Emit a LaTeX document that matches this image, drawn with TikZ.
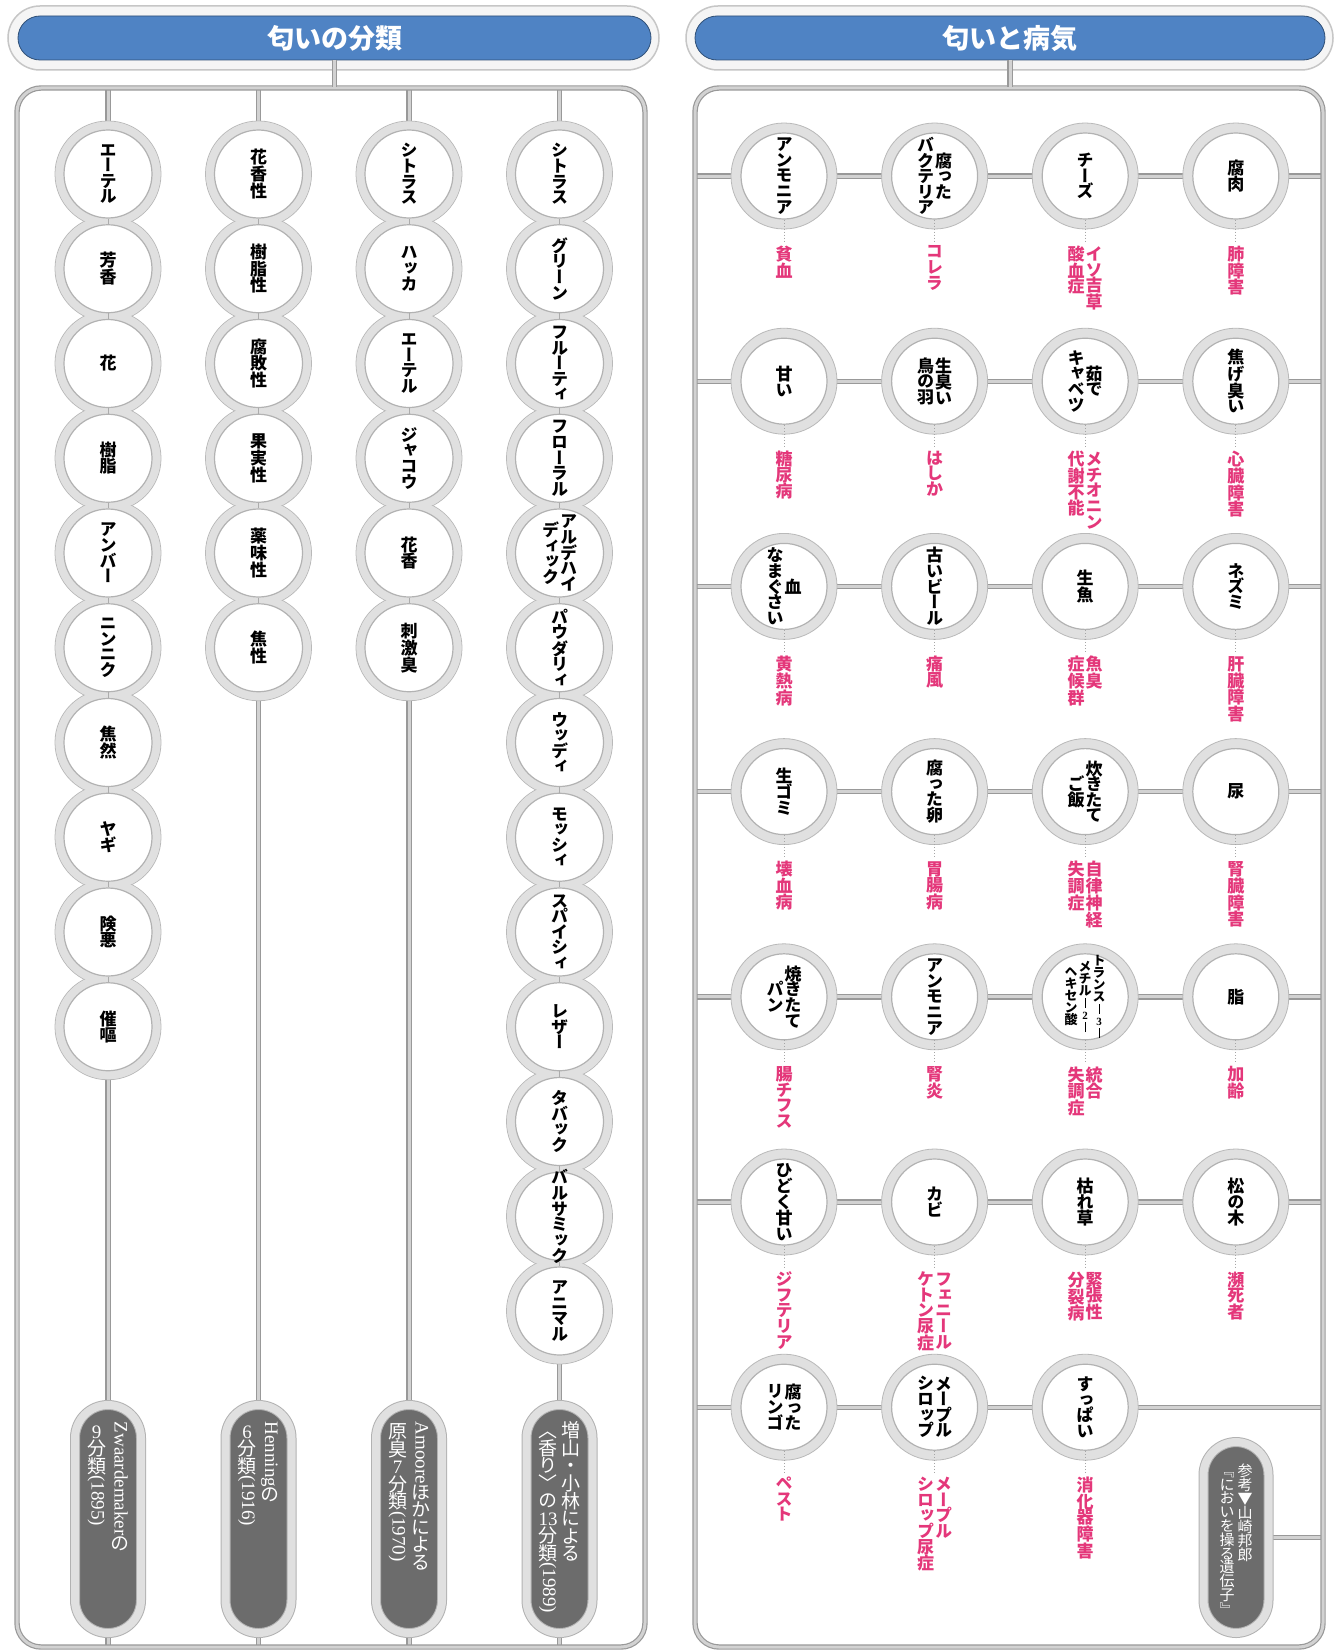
\documentclass[tikz,border=0pt]{standalone}
\usepackage{xcolor}
\usepackage{graphicx}
\usepackage{fontspec}
\usetikzlibrary{positioning}
\pgfdeclarelayer{back}
\pgfdeclarelayer{mid}
\pgfsetlayers{back,mid,main}

\setmainfont{Liberation Serif}
\newfontfamily\jp{Noto Sans CJK JP}[RawFeature=+vert]
\newfontfamily\jph{Noto Sans CJK JP}
\newfontfamily\lat{Liberation Serif}

\definecolor{headblue}{RGB}{79,131,196}
\definecolor{sickpink}{RGB}{228,55,122}
\definecolor{pillgray}{RGB}{108,108,108}
\definecolor{ringgray}{RGB}{224,224,224}

% vertical text
\def\tatemark{TATEMARK}
\newcommand\tatechar[1]{\hbox to 1em{\hss#1\hss}}
\def\tateloop#1{\def\tatearg{#1}\ifx\tatearg\tatemark\else\tatechar{#1}\expandafter\tateloop\fi}
\newcommand\tatesetup{\baselineskip=0.92em\lineskip=0.04em\lineskiplimit=0pt}
\newcommand\tatec[1]{\ensuremath{\vcenter{\tatesetup\expandafter\tateloop#1{TATEMARK}}}}
\newcommand\tatet[1]{\vtop{\tatesetup\expandafter\tateloop#1{TATEMARK}}}
\newcommand\tateII[2]{\edef\tmpb{#2}\ifx\tmpb\empty\tatec{#1}\else\tatec{#2}\kern1pt\tatec{#1}\fi}
\newcommand\tateIIt[2]{\edef\tmpb{#2}\ifx\tmpb\empty\tatet{#1}\else\tatet{#2}\kern1pt\tatet{#1}\fi}
\newcommand\yoko[1]{\raisebox{\dimexpr0.86em-\height\relax}{\rotatebox{-90}{\raisebox{0pt}[0.66em][0.14em]{\lat #1}}}}
\newcommand\tdig[1]{{\lat\fontsize{11}{11}\selectfont#1}}
\newcommand\tbar{\rule[-0.05em]{0.6pt}{0.75em}}

\begin{document}
\begin{tikzpicture}[x=1pt,y=-1pt,
    pipe/.style={draw=gray!80,line width=1.2pt,double=gray!35,double distance=3pt},
    spine/.style={draw=gray!65,line width=1pt},
    ringout/.style={fill=ringgray,draw=gray!55,line width=0.8pt},
    ring/.style={circle,minimum size=88pt,inner sep=0pt,fill=white,draw=gray!60,line width=1.2pt},
    ringtext/.style={inner sep=0pt,text=black,font=\jp\bfseries\fontsize{17}{17}\selectfont},
    sicktext/.style={inner sep=0pt,text=sickpink,font=\jp\bfseries\fontsize{17}{17}\selectfont},
    link/.style={draw=gray!70,dotted,line width=1pt,shorten >=3pt},
    headout/.style={rectangle,minimum height=64pt,rounded corners=32pt,fill=gray!8,draw=gray!45,line width=1.5pt},
    headbar/.style={rectangle,minimum height=44pt,rounded corners=22pt,fill=headblue,draw=headblue!60!black,
        line width=0.8pt,text=white,font=\jph\bfseries\fontsize{27}{27}\selectfont},
    frame/.style={rectangle,minimum height=1559pt,rounded corners=24pt,pipe},
    pill/.style={rectangle,minimum width=66pt,rounded corners=33pt,fill=pillgray,draw=gray!60,
        line width=1pt,double=ringgray,double distance=8pt},
    pilltext/.style={inner sep=0pt,text=white,font=\jp\fontsize{19}{19}\selectfont}]

\useasboundingbox (0,0) rectangle (1335,1651);

% headers and frames
\node[headout,minimum width=651pt] (lheadout) at (333.5,38) {};
\node[headbar,minimum width=633pt] (lhead) at (334.5,38) {匂いの分類};
\node[headout,minimum width=647pt] (rheadout) at (1009.5,38) {};
\node[headbar,minimum width=630pt] (rhead) at (1010,38) {匂いと病気};
\node[frame,minimum width=628pt] (lframe) at (331,867.5) {};
\node[frame,minimum width=628pt] (rframe) at (1009,867.5) {};
\draw[pipe] (lhead.south) -- (lhead.south |- lframe.north);
\draw[pipe] (rhead.south) -- (rhead.south |- rframe.north);

% odour classes
\foreach \ta/\tb [count=\i] in {エーテル/,芳香/,花/,樹脂/,アンバー/,ニンニク/,焦然/,ヤギ/,険悪/,催嘔/}{
    \node[ring,label={[ringtext]center:{\tateII{\ta}{\tb}}}] (zw\i) at (108,{174+94.75*(\i-1)}) {};
    \pgfmathtruncatemacro\j{\i-1}
    \ifnum\i>1 \draw[spine] (zw\j) -- (zw\i); \fi
}
\foreach \ta/\tb [count=\i] in {花香性/,樹脂性/,腐敗性/,果実性/,薬味性/,焦性/}{
    \node[ring,label={[ringtext]center:{\tateII{\ta}{\tb}}}] (hn\i) at (258.5,{174+94.75*(\i-1)}) {};
    \pgfmathtruncatemacro\j{\i-1}
    \ifnum\i>1 \draw[spine] (hn\j) -- (hn\i); \fi
}
\foreach \ta/\tb [count=\i] in {シトラス/,ハッカ/,エーテル/,ジャコウ/,花香/,刺激臭/}{
    \node[ring,label={[ringtext]center:{\tateII{\ta}{\tb}}}] (am\i) at (409,{174+94.75*(\i-1)}) {};
    \pgfmathtruncatemacro\j{\i-1}
    \ifnum\i>1 \draw[spine] (am\j) -- (am\i); \fi
}
\foreach \ta/\tb [count=\i] in {シトラス/,グリーン/,フルーティ/,フローラル/,アルデハイ/ディック,パウダリィ/,
        ウッディ/,モッシィ/,スパイシィ/,レザー/,タバック/,バルサミック/,アニマル/}{
    \node[ring,label={[ringtext]center:{\tateII{\ta}{\tb}}}] (mk\i) at (559.5,{174+94.75*(\i-1)}) {};
    \pgfmathtruncatemacro\j{\i-1}
    \ifnum\i>1 \draw[spine] (mk\j) -- (mk\i); \fi
}

\foreach \p/\x in {zw/108,hn/258.5,am/409,mk/559.5}
    \node[pill,minimum height=228pt] (\p-pill) at (\x,1519) {};
\node[pilltext,below=17pt of zw-pill.north] (zw-text)
    {\tatet{{\lat 9}分類{\yoko{(1895)}}}\kern4pt\tatet{{\yoko{Zwaardemaker}}の}};
\node[pilltext,below=17pt of hn-pill.north] (hn-text)
    {\tatet{{\lat 6}分類{\yoko{(1916)}}}\kern4pt\tatet{{\yoko{Henning}}の}};
\node[pilltext,below=17pt of am-pill.north] (am-text)
    {\tatet{原臭{\lat 7}分類{\yoko{(1970)}}}\kern4pt\tatet{{\yoko{Amoore}}ほかによる}};
\node[pilltext,below=17pt of mk-pill.north] (mk-text)
    {\tatet{〈香り〉の{\lat 13}分類{\yoko{(1989)}}}\kern4pt\tatet{増山・小林による}};

% odours and illnesses
\foreach \ro/\co/\ta/\tb/\da/\db in {
    1/1/アンモニア//貧血/,1/2/腐った/バクテリア/コレラ/,1/3/チーズ//イソ吉草/酸血症,1/4/腐肉//肺障害/,
    2/1/甘い//糖尿病/,2/2/生臭い/鳥の羽/はしか/,2/3/茹で/キャベツ/メチオニン/代謝不能,2/4/焦げ臭い//心臓障害/,
    3/1/血/なまぐさい/黄熱病/,3/2/古いビール//痛風/,3/3/生魚//魚臭/症候群,3/4/ネズミ//肝臓障害/,
    4/1/生ゴミ//壊血病/,4/2/腐った卵//胃腸病/,4/3/炊きたて/ご飯/自律神経/失調症,4/4/尿//腎臓障害/,
    5/1/焼きたて/パン/腸チフス/,5/2/アンモニア//腎炎/,5/4/脂//加齢/,
    6/1/ひどく甘い//ジフテリア/,6/2/カビ//フェニール/ケトン尿症,6/3/枯れ草//緊張性/分裂病,6/4/松の木//瀕死者/,
    7/1/腐った/リンゴ/ペスト/,7/2/メープル/シロップ/メープル/シロップ尿症,7/3/すっぱい//消化器障害/}{
    \node[ring,minimum size=86pt,label={[ringtext]center:{\tateII{\ta}{\tb}}}] (sm\ro\co)
        at ({784+150.6*(\co-1)},{176+205.2*(\ro-1)}) {};
    \node[sicktext,below=26pt of sm\ro\co] (ds\ro\co) {\tateIIt{\da}{\db}};
    \draw[link] (sm\ro\co) -- (ds\ro\co);
}
\node[ring,minimum size=86pt,label={[ringtext,font=\jp\bfseries\fontsize{13}{13}\selectfont]center:{%
    \tatec{ヘキセン酸}\kern1pt\tatec{メチル{\tbar}{\tdig2}{\tbar}}\kern1pt\tatec{トランス{\tbar}{\tdig3}{\tbar}}}}]
    (sm53) at (1085.2,{176+205.2*4}) {};
\node[sicktext,below=26pt of sm53] (ds53) {\tateIIt{統合}{失調症}};
\draw[link] (sm53) -- (ds53);

\node[pill,minimum width=65pt,minimum height=191pt] (ref-pill) at (1236,1537.5) {};
\node[pilltext,font=\jp\fontsize{15}{15}\selectfont,below=22pt of ref-pill.north] (ref-text)
    {\tatet{『においを操る遺伝子』}\kern3pt\tatet{参考▼山崎邦郎}};

% pipes behind
\begin{pgfonlayer}{back}
    \fill[white] (0,0) rectangle (1335,1651);
    \foreach \p in {zw,hn,am,mk}
        \draw[pipe] (\p1 |- lframe.north) -- (\p1 |- lframe.south);
    \foreach \ro in {1,...,7}
        \draw[pipe] (sm\ro1 -| rframe.west) -- (sm\ro1 -| rframe.east);
    \draw[pipe] (ref-pill.east) -- (ref-pill.east -| rframe.east);
\end{pgfonlayer}

% rings
\begin{pgfonlayer}{mid}
    \foreach \p/\n in {zw/10,hn/6,am/6,mk/13}{
        \foreach \i in {1,...,\n} \filldraw[ringout] (\p\i) circle (53pt);
        \foreach \i in {1,...,\n} \fill[ringgray] (\p\i) circle (52.4pt);
    }
    \foreach \ro in {1,...,7}
        \foreach \co in {1,...,4}{
            \ifnum\ro\co=74 \else \filldraw[ringout] (sm\ro\co) circle (53pt); \fi
        }
\end{pgfonlayer}
\end{tikzpicture}
\end{document}
